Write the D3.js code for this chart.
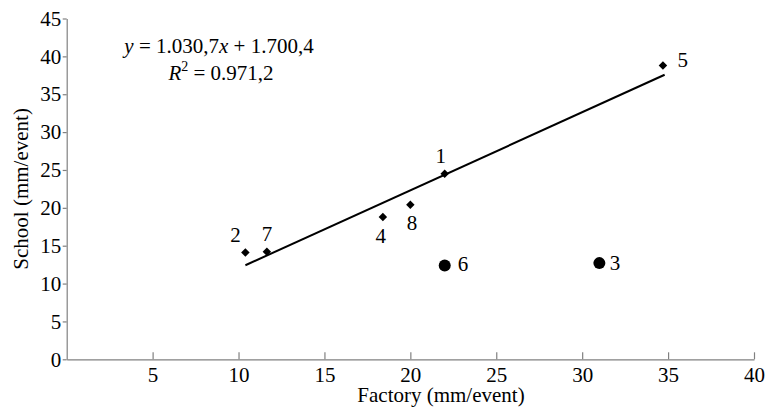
<!DOCTYPE html>
<html>
<head>
<meta charset="utf-8">
<script src="https://cdn.jsdelivr.net/npm/d3@7"></script>
<style>
  body { margin: 0; background: #fff; }
  svg, svg text { font-family: 'Liberation Serif', 'Times New Roman', serif; }
</style>
</head>
<body>
<div id="chart"></div>
<script>
// Chart data
var pointIds = ["1", "2", "3", "4", "5", "6", "7", "8"];
var factory  = [22.0, 10.4, 31.0, 18.4, 34.7, 22.0, 11.65, 20.0];
var school   = [24.5, 14.1, 12.7, 18.8, 38.8, 12.4, 14.2, 20.4];
var outlier  = [false, false, true, false, false, true, false, false];

var xTicks = [5, 10, 15, 20, 25, 30, 35, 40];
var yTicks = [0, 5, 10, 15, 20, 25, 30, 35, 40, 45];

// fitted line y = a*x + b, drawn over the fitted points' range
var trendCoef  = [1.0307, 1.7004];
var trendRange = [10.4, 34.8];

var width = 765, height = 409,
    serif = "'Liberation Serif', 'Times New Roman', serif";

var svg = d3.select("#chart").append("svg")
    .attr("width", width)
    .attr("height", height)
    .attr("font-family", serif);

var x = d3.scaleLinear().domain([0, 40]).range([66.7, 754]);
var y = d3.scaleLinear().domain([0, 45]).range([359.3, 18.5]);

var axisColor = "#808080";

//X axis, ticks pointing inwards
var xAxis = svg.append("g")
    .attr("transform", "translate(0," + y(0) + ")")
    .call(d3.axisBottom(x).tickValues(xTicks).tickSizeInner(-7).tickSizeOuter(0).tickPadding(8));

//Y axis
var yAxis = svg.append("g")
    .attr("transform", "translate(" + x(0) + ",0)")
    .call(d3.axisLeft(y).tickValues(yTicks).tickSizeInner(4).tickSizeOuter(0).tickPadding(1.5));

[xAxis, yAxis].forEach(function(g) {
  g.attr("font-family", serif).attr("font-size", 21);
  g.select(".domain").attr("stroke", axisColor).attr("stroke-width", 1.2);
  g.selectAll(".tick line").attr("stroke", axisColor).attr("stroke-width", 1.2);
  g.selectAll(".tick text").attr("fill", "#000");
});

//Axis titles
svg.append("text")
    .attr("x", 441)
    .attr("y", 402)
    .attr("text-anchor", "middle")
    .attr("font-size", 21)
    .text("Factory (mm/event)");

svg.append("text")
    .attr("transform", "translate(27.5," + ((y(0) + y(45)) / 2) + ") rotate(-90)")
    .attr("text-anchor", "middle")
    .attr("font-size", 21)
    .text("School (mm/event)");

//Trend line
var line = d3.line()
    .x(function(d) { return x(d); })
    .y(function(d) { return y(trendCoef[0] * d + trendCoef[1]); });

svg.append("path")
    .datum(trendRange)
    .attr("d", line)
    .attr("fill", "none")
    .attr("stroke", "#000")
    .attr("stroke-width", 2);

//Equation
var eq = svg.append("text")
    .attr("x", 219)
    .attr("y", 53)
    .attr("text-anchor", "middle")
    .attr("font-size", 21);
eq.append("tspan").attr("font-style", "italic").text("y");
eq.append("tspan").text(" = 1.030,7");
eq.append("tspan").attr("font-style", "italic").text("x");
eq.append("tspan").text(" + 1.700,4");

var r2 = svg.append("text")
    .attr("x", 221)
    .attr("y", 80)
    .attr("text-anchor", "middle")
    .attr("font-size", 21);
r2.append("tspan").attr("font-style", "italic").text("R");
r2.append("tspan").attr("dy", -9).attr("font-size", 14).text("2");
r2.append("tspan").attr("dy", 9).text(" = 0.971,2");

//Points
var points = pointIds.map(function(id, i) {
  return {id: id, fx: factory[i], sc: school[i], outlier: outlier[i]};
});

var diamond = d3.symbol().type(d3.symbolSquare).size(36);

svg.selectAll(".diamond")
    .data(points.filter(function(d) { return !d.outlier; }))
    .enter().append("path")
    .attr("class", "diamond")
    .attr("d", diamond)
    .attr("transform", function(d) { return "translate(" + x(d.fx) + "," + y(d.sc) + ") rotate(45)"; })
    .attr("fill", "#000");

svg.selectAll(".dot")
    .data(points.filter(function(d) { return d.outlier; }))
    .enter().append("circle")
    .attr("class", "dot")
    .attr("cx", function(d) { return x(d.fx); })
    .attr("cy", function(d) { return y(d.sc); })
    .attr("r", 6)
    .attr("fill", "#000");

//Point labels: offset [dx, dy] from the point, and anchor
var labelPlace = {
  "1": [-4, -11, "middle"],
  "2": [-10, -10.5, "middle"],
  "3": [10.5, 6.7, "start"],
  "4": [-2, 26, "middle"],
  "5": [14.5, 1.7, "start"],
  "6": [13, 5.7, "start"],
  "7": [0, -11, "middle"],
  "8": [1.7, 25, "middle"]
};

svg.selectAll(".ptLabel")
    .data(points)
    .enter().append("text")
    .attr("class", "ptLabel")
    .attr("x", function(d) { return x(d.fx) + labelPlace[d.id][0]; })
    .attr("y", function(d) { return y(d.sc) + labelPlace[d.id][1]; })
    .attr("text-anchor", function(d) { return labelPlace[d.id][2]; })
    .attr("font-size", 21)
    .text(function(d) { return d.id; });
</script>
</body>
</html>
